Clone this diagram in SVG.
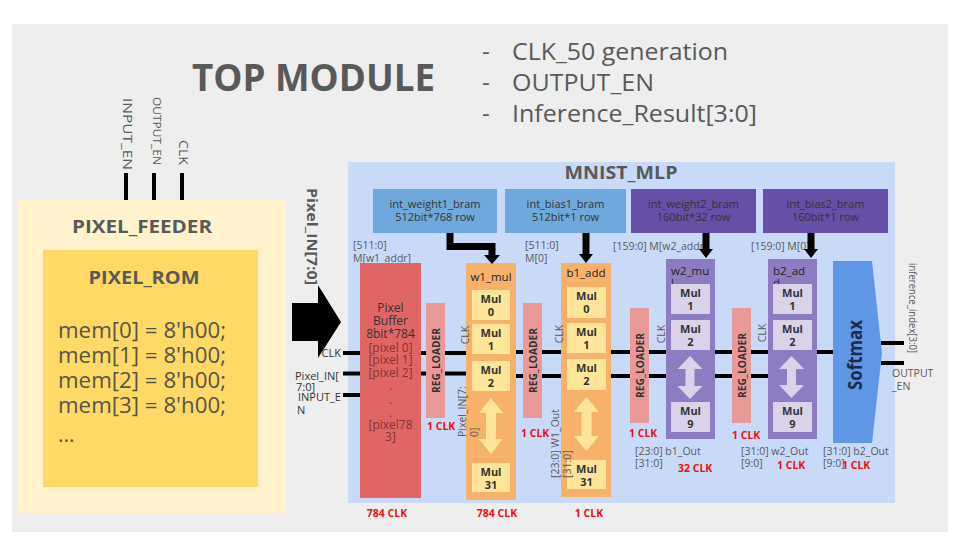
<svg xmlns="http://www.w3.org/2000/svg" width="960" height="540" viewBox="0 0 960 540">
<defs>
<style>
text{font-family:"Open Sans","Noto Sans","DejaVu Sans",sans-serif;}
.g{fill:#595959;}
.lbl{font-size:10.5px;fill:#595959;}
.dk{font-size:11px;fill:#333333;}
.red{font-size:10.5px;font-weight:bold;fill:#ee1111;}
.mul{font-size:11px;font-weight:bold;fill:#333333;text-anchor:middle;}
.ttl{font-size:11.5px;fill:#1f1f1f;}
.bram{font-size:11px;fill:#333333;text-anchor:middle;}
.reg{font-size:11px;font-weight:bold;fill:#333333;text-anchor:middle;}
.wire{stroke:#000;stroke-width:4;fill:none;}
.fat{stroke:#000;stroke-width:7;fill:none;}
.ylw{fill:#ffe599;}
.lav{fill:#d9d2e9;}
.rl{fill:#ea9999;}
</style>
</defs>
<rect x="12" y="24" width="936" height="508" fill="#eeeeee"/>

<g id="title">
<text x="192" y="91" font-size="38" font-weight="bold" class="g" textLength="243" lengthAdjust="spacingAndGlyphs">TOP MODULE</text>
<text x="482" y="60" font-size="24" class="g">-</text>
<text x="482" y="91" font-size="24" class="g">-</text>
<text x="482" y="122" font-size="24" class="g">-</text>
<text x="512" y="60" font-size="24" class="g" textLength="216" lengthAdjust="spacingAndGlyphs">CLK_50 generation</text>
<text x="512" y="91" font-size="24" class="g" textLength="142" lengthAdjust="spacingAndGlyphs">OUTPUT_EN</text>
<text x="512" y="122" font-size="24" class="g" textLength="245" lengthAdjust="spacingAndGlyphs">Inference_Result[3:0]</text>
</g>

<g id="top-inputs">
<text transform="translate(123,98) rotate(90)" font-size="13" class="g" textLength="72" lengthAdjust="spacingAndGlyphs">INPUT_EN</text>
<text transform="translate(153,97) rotate(90)" font-size="11.5" class="g" textLength="68" lengthAdjust="spacingAndGlyphs">OUTPUT_EN</text>
<text transform="translate(179,140) rotate(90)" font-size="13" class="g" textLength="25" lengthAdjust="spacingAndGlyphs">CLK</text>
</g>

<g id="pixel_feeder">
<rect x="18" y="200" width="268" height="313" fill="#fff2cc"/>
<text x="142" y="233" font-size="18" font-weight="bold" class="g" text-anchor="middle" textLength="140" lengthAdjust="spacingAndGlyphs">PIXEL_FEEDER</text>
</g>

<g id="pixel_rom">
<rect x="43" y="250" width="215" height="237" fill="#ffd966"/>
<text x="144" y="284" font-size="18" font-weight="bold" class="g" text-anchor="middle" textLength="111" lengthAdjust="spacingAndGlyphs">PIXEL_ROM</text>
<text x="58" y="338" font-size="21" fill="#56544a" textLength="168" lengthAdjust="spacingAndGlyphs">mem[0] = 8'h00;</text>
<text x="58" y="363" font-size="21" fill="#56544a" textLength="168" lengthAdjust="spacingAndGlyphs">mem[1] = 8'h00;</text>
<text x="58" y="388" font-size="21" fill="#56544a" textLength="168" lengthAdjust="spacingAndGlyphs">mem[2] = 8'h00;</text>
<text x="58" y="413" font-size="21" fill="#56544a" textLength="168" lengthAdjust="spacingAndGlyphs">mem[3] = 8'h00;</text>
<text x="58" y="442" font-size="21" fill="#56544a">...</text>
</g>

<g id="connectors">
<line class="wire" x1="126" y1="173" x2="126" y2="200"/>
<line class="wire" x1="154" y1="173" x2="154" y2="200"/>
<line class="wire" x1="182" y1="173" x2="182" y2="200"/>
<polygon points="292,303 318,303 318,285 341,322 318,358 318,341 292,341" fill="#000"/>
<text transform="translate(307,188) rotate(90)" font-size="15" font-weight="bold" class="g" textLength="97" lengthAdjust="spacingAndGlyphs">Pixel_IN[7:0]</text>
</g>

<g id="mnist_mlp">
<rect x="348" y="162" width="547" height="341" fill="#c9daf8"/>
<text x="621" y="179" font-size="18" font-weight="bold" class="g" text-anchor="middle" textLength="113" lengthAdjust="spacingAndGlyphs">MNIST_MLP</text>
</g>

<g id="int_weight1_bram">
<rect x="373" y="189" width="124" height="44" fill="#6fa8dc"/>
<text class="bram" x="435" y="208">int_weight1_bram</text>
<text class="bram" x="435" y="221">512bit*768 row</text>
</g>
<g id="int_bias1_bram">
<rect x="505" y="189" width="121" height="44" fill="#6fa8dc"/>
<text class="bram" x="565.5" y="208">int_bias1_bram</text>
<text class="bram" x="565.5" y="221">512bit*1 row</text>
</g>
<g id="int_weight2_bram">
<rect x="631" y="189" width="125" height="44" fill="#674ea7"/>
<text class="bram" x="693.5" y="208">int_weight2_bram</text>
<text class="bram" x="693.5" y="221">160bit*32 row</text>
</g>
<g id="int_bias2_bram">
<rect x="763" y="189" width="125" height="44" fill="#674ea7"/>
<text class="bram" x="825.5" y="208">int_bias2_bram</text>
<text class="bram" x="825.5" y="221">160bit*1 row</text>
</g>

<g id="labels">
<text class="lbl" x="353" y="249">[511:0]</text>
<text class="lbl" x="353" y="262">M[w1_addr]</text>
<text class="lbl" x="525" y="249">[511:0]</text>
<text class="lbl" x="525" y="262">M[0]</text>
<text class="lbl" x="613" y="250">[159:0] M[w2_addr]</text>
<text class="lbl" x="751" y="250">[159:0] M[0]</text>
<text class="dk" x="341" y="357" text-anchor="end">CLK</text>
<text class="dk" x="295" y="380">Pixel_IN[</text>
<text class="dk" x="296" y="391">7:0]</text>
<text class="dk" x="298" y="401">INPUT_E</text>
<text class="dk" x="297" y="414">N</text>
</g>

<g id="wires">
<line class="wire" x1="343" y1="353" x2="466" y2="353"/>
<line class="wire" x1="343" y1="373.5" x2="466" y2="373.5"/>
<line class="wire" x1="343" y1="395" x2="360" y2="395"/>
<line class="wire" x1="516" y1="352" x2="561" y2="352"/>
<line class="wire" x1="516" y1="376" x2="561" y2="376"/>
<line class="wire" x1="611" y1="352" x2="666" y2="352"/>
<line class="wire" x1="611" y1="376" x2="666" y2="376"/>
<line class="wire" x1="715" y1="352" x2="768" y2="352"/>
<line class="wire" x1="715" y1="376" x2="768" y2="376"/>
<line class="wire" x1="817" y1="352" x2="834" y2="352"/>
<line class="wire" x1="881" y1="343" x2="904" y2="343"/>
<line class="wire" x1="881" y1="363" x2="904" y2="363"/>
</g>

<g id="pixel_buffer">
<rect x="360" y="263" width="61" height="235" fill="#e06666"/>
<g font-size="12" text-anchor="middle">
<text x="390.5" y="312" fill="#333">Pixel</text>
<text x="390.5" y="325" fill="#333">Buffer</text>
<text x="390.5" y="338" fill="#333">8bit*784</text>
<text x="390.5" y="352" fill="#8a2f2f">[pixel 0]</text>
<text x="390.5" y="364" fill="#8a2f2f">[pixel 1]</text>
<text x="390.5" y="377" fill="#8a2f2f">[pixel 2]</text>
<text x="390.5" y="390" fill="#8a2f2f">.</text>
<text x="390.5" y="404" fill="#8a2f2f">.</text>
<text x="390.5" y="417" fill="#8a2f2f">.</text>
<text x="390.5" y="429" fill="#8a2f2f">[pixel78</text>
<text x="390.5" y="441" fill="#8a2f2f">3]</text>
</g>
<text class="red" x="387" y="517" text-anchor="middle">784 CLK</text>
</g>

<g id="reg_loader_1">
<rect class="rl" x="426" y="303" width="19" height="115"/>
<text class="reg" transform="translate(439.5,360.5) rotate(-90)" textLength="65" lengthAdjust="spacingAndGlyphs">REG_LOADER</text>
<text class="red" x="427" y="430">1 CLK</text>
</g>

<g id="w1_mul">
<rect x="466" y="263" width="50" height="237" fill="#f6b26b"/>
<text class="ttl" x="491" y="281" text-anchor="middle">w1_mul</text>
<rect class="ylw" x="472" y="290" width="38" height="30"/>
<rect class="ylw" x="472" y="324" width="38" height="30"/>
<rect class="ylw" x="472" y="361" width="38" height="30"/>
<rect class="ylw" x="472" y="463" width="38" height="29"/>
<text class="mul" x="491" y="303">Mul</text><text class="mul" x="491" y="316">0</text>
<text class="mul" x="491" y="337">Mul</text><text class="mul" x="491" y="350">1</text>
<text class="mul" x="491" y="374">Mul</text><text class="mul" x="491" y="387">2</text>
<text class="mul" x="491" y="476">Mul</text><text class="mul" x="491" y="489">31</text>
<polygon class="ylw" points="491,398 503,413 496,413 496,439 503,439 491,454 479,439 486,439 486,413 479,413"/>
<text class="lbl" font-size="10" transform="translate(468.5,335) rotate(-90)" text-anchor="middle">CLK</text>
<text class="lbl" font-size="10" transform="translate(466,437) rotate(-90)">Pixel_IN[7:</text>
<text class="lbl" font-size="10" transform="translate(478,437) rotate(-90)">0]</text>
<text class="red" x="497" y="517" text-anchor="middle">784 CLK</text>
</g>

<g id="reg_loader_2">
<rect class="rl" x="523" y="303" width="19" height="115"/>
<text class="reg" transform="translate(536.5,360.5) rotate(-90)" textLength="65" lengthAdjust="spacingAndGlyphs">REG_LOADER</text>
<text class="red" x="521" y="437">1 CLK</text>
</g>

<g id="b1_add">
<rect x="561" y="263" width="50" height="234" fill="#f6b26b"/>
<text class="ttl" x="586" y="277" text-anchor="middle">b1_add</text>
<rect class="ylw" x="567" y="287" width="39" height="31"/>
<rect class="ylw" x="567" y="323" width="39" height="30"/>
<rect class="ylw" x="567" y="359" width="39" height="31"/>
<rect class="ylw" x="567" y="460" width="39" height="29"/>
<text class="mul" x="586.5" y="300">Mul</text><text class="mul" x="586.5" y="313">0</text>
<text class="mul" x="586.5" y="336">Mul</text><text class="mul" x="586.5" y="349">1</text>
<text class="mul" x="586.5" y="372">Mul</text><text class="mul" x="586.5" y="385">2</text>
<text class="mul" x="586.5" y="473">Mul</text><text class="mul" x="586.5" y="486">31</text>
<polygon class="ylw" points="586.5,397 599,412 591.5,412 591.5,436 599,436 586.5,451 574,436 581.5,436 581.5,412 574,412"/>
<text class="lbl" font-size="11" transform="translate(562.5,334) rotate(-90)" text-anchor="middle">CLK</text>
<text class="lbl" font-size="11" transform="translate(559,478) rotate(-90)">[23:0] W1_Out</text>
<text class="lbl" font-size="11" transform="translate(571,478) rotate(-90)">[31:0]</text>
<text class="red" x="589" y="517" text-anchor="middle">1 CLK</text>
</g>

<g id="reg_loader_3">
<rect class="rl" x="630" y="308" width="19" height="115"/>
<text class="reg" transform="translate(643.5,365.5) rotate(-90)" textLength="65" lengthAdjust="spacingAndGlyphs">REG_LOADER</text>
<text class="red" x="629" y="437">1 CLK</text>
</g>

<g id="w2_mul">
<rect x="666" y="259" width="49" height="180" fill="#8e7cc3"/>
<text class="ttl" x="671" y="275">w2_mu</text>
<text class="ttl" x="671" y="287">l</text>
<rect class="lav" x="671" y="284" width="39" height="30"/>
<rect class="lav" x="671" y="320" width="39" height="30"/>
<rect class="lav" x="671" y="402" width="39" height="30"/>
<text class="mul" x="690.5" y="297">Mul</text><text class="mul" x="690.5" y="310">1</text>
<text class="mul" x="690.5" y="333">Mul</text><text class="mul" x="690.5" y="346">2</text>
<text class="mul" x="690.5" y="415">Mul</text><text class="mul" x="690.5" y="428">9</text>
<polygon class="lav" points="690,356 702.5,369 694.5,369 694.5,386 702.5,386 690,399 677.5,386 685.5,386 685.5,369 677.5,369"/>
<text class="lbl" font-size="11" transform="translate(664.5,334) rotate(-90)" text-anchor="middle">CLK</text>
<text class="lbl" font-size="11" x="635" y="455">[23:0] b1_Out</text>
<text class="lbl" font-size="11" x="635" y="467">[31:0]</text>
<text class="red" x="678" y="472">32 CLK</text>
</g>

<g id="reg_loader_4">
<rect class="rl" x="732" y="308" width="19" height="115"/>
<text class="reg" transform="translate(745.5,365.5) rotate(-90)" textLength="65" lengthAdjust="spacingAndGlyphs">REG_LOADER</text>
<text class="red" x="732" y="439">1 CLK</text>
</g>

<g id="b2_add">
<rect x="768" y="259" width="49" height="180" fill="#8e7cc3"/>
<text class="ttl" x="773" y="275">b2_ad</text>
<text class="ttl" x="773" y="287">d</text>
<rect class="lav" x="773" y="284" width="39" height="30"/>
<rect class="lav" x="773" y="320" width="39" height="30"/>
<rect class="lav" x="773" y="402" width="39" height="30"/>
<text class="mul" x="792.5" y="297">Mul</text><text class="mul" x="792.5" y="310">1</text>
<text class="mul" x="792.5" y="333">Mul</text><text class="mul" x="792.5" y="346">2</text>
<text class="mul" x="792.5" y="415">Mul</text><text class="mul" x="792.5" y="428">9</text>
<polygon class="lav" points="791.5,356 804,369 796,369 796,385 804,385 791.5,398 779,385 787,385 787,369 779,369"/>
<text class="lbl" font-size="11" transform="translate(765.5,333) rotate(-90)" text-anchor="middle">CLK</text>
<text class="lbl" font-size="11" x="741" y="455">[31:0] w2_Out</text>
<text class="lbl" font-size="11" x="741" y="467">[9:0]</text>
<text class="red" x="777" y="469">1 CLK</text>
</g>

<g id="softmax">
<polygon points="833,261 872,261 882,353 872,443 833,443" fill="#5f96e6"/>
<text transform="translate(862,355) rotate(-90)" font-size="20" font-weight="bold" fill="#1c2b4a" text-anchor="middle" textLength="70" lengthAdjust="spacingAndGlyphs">Softmax</text>
<text class="lbl" font-size="11" x="823" y="455">[31:0] b2_Out</text>
<text class="lbl" font-size="11" x="823" y="467">[9:0]</text>
<text class="red" x="842" y="469">1 CLK</text>
<text class="lbl" transform="translate(908.5,263) rotate(90)" textLength="90" lengthAdjust="spacingAndGlyphs">inference_index[3:0]</text>
<text class="lbl" font-size="11" x="892" y="377">OUTPUT</text>
<text class="lbl" font-size="11" x="892" y="390">_EN</text>
</g>

<g id="bram-arrows">
<path class="fat" d="M450 233 V246.5 H492 V256"/>
<polygon points="484,255 500,255 492,264" fill="#000"/>
<line class="fat" x1="586" y1="233" x2="586" y2="255"/>
<polygon points="579,254 593,254 586,263" fill="#000"/>
<line class="fat" x1="706" y1="233" x2="706" y2="250"/>
<polygon points="699,249 713,249 706,258" fill="#000"/>
<line class="fat" x1="811" y1="233" x2="811" y2="250"/>
<polygon points="804,249 818,249 811,258" fill="#000"/>
</g>
</svg>
